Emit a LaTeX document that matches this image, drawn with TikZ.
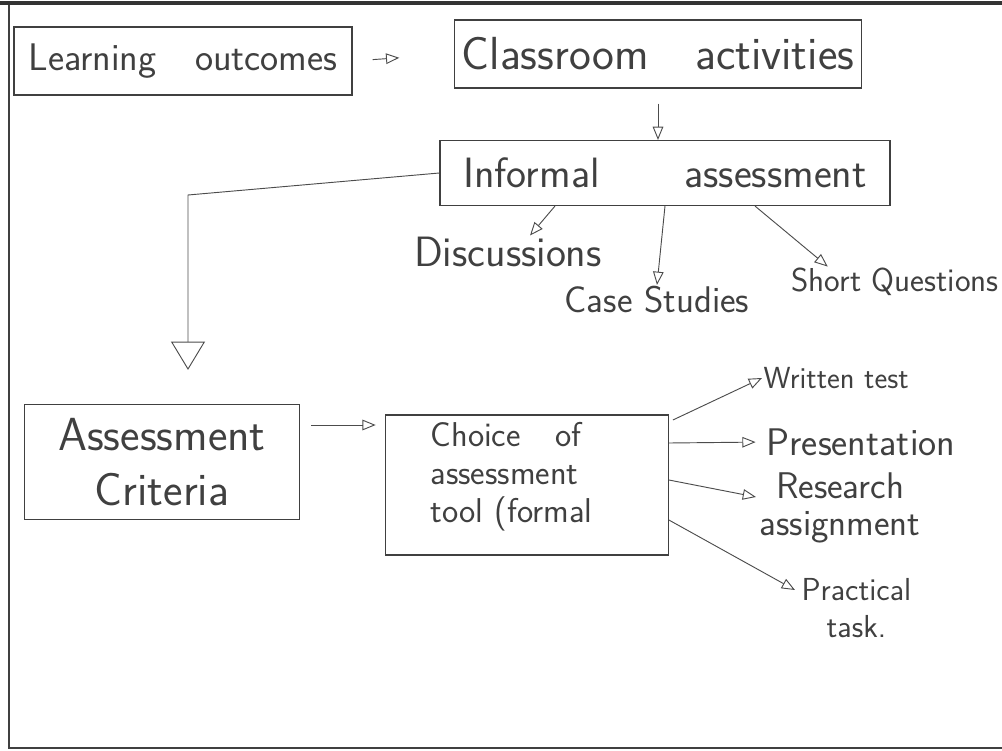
\documentclass[tikz,border=0pt]{standalone}
\usepackage{tikz}
\usetikzlibrary{arrows.meta,calc}

\tikzset{
  box/.style={draw=black!75, line width=0.9pt, text=black!75, align=center,
    font=\sffamily\fontsize{#1}{42}\selectfont},
  box/.default=30,
  lbl/.style={text=black!75, align=center, inner sep=1pt,
    font=\sffamily\fontsize{#1}{28}\selectfont},
  lbl/.default=25,
  conn/.style={draw=black!70, line width=0.7pt, -{Triangle[open,length=10pt,width=8pt]}},
}

\begin{document}
\begin{tikzpicture}[x=0.0265cm,y=-0.0265cm]
  \useasboundingbox (0,0) rectangle (1002,751);

  % edge of the scanned sheet (no right side)
  \draw[line width=2.2pt, black!75] (1002,4) -- (9,4) -- (9,748) -- (1002,748);
  \draw[line width=3pt, black!80] (0,3) -- (1002,3);

  % top row
  \node[box=29, minimum width=8.96cm, minimum height=1.8cm] (L) at (183,61) {Learning\quad outcomes};
  \node[box=35, minimum width=10.79cm, minimum height=1.8cm] (C) at (658,54) {Classroom\quad activities};

  % informal assessment and its parts
  \node[box=32, minimum width=11.93cm, minimum height=1.72cm] (I) at (665,173) {Informal\qquad assessment};
  \node[lbl=32] (D) at (508,252) {Discussions};
  \node[lbl=28] (CS) at (657,300) {Case Studies};
  \node[lbl=25] (SQ) at (895,282) {Short Questions};

  % criteria and choice of tool
  \node[box=35, minimum width=7.29cm, minimum height=3.05cm] (AC) at (162,462) {Assessment\\Criteria};
  \node[box=26, align=left, font=\sffamily\fontsize{26}{29}\selectfont, text width=5.11cm,
    inner xsep=1.19cm, inner ysep=2pt, minimum height=3.71cm] (CT) at (527,485) {Choice\quad of\\assessment\\tool (formal\\[-10pt]\mbox{}};

  % formal tools
  \node[lbl=23, anchor=west] (WT) at (762,378) {Written test};
  \node[lbl=29, anchor=west] (P) at (765,442) {Presentation};
  \node[lbl=28, anchor=west] (R) at (758,508) {Research\\assignment};
  \node[lbl=24, anchor=west] (PT) at (800,608) {Practical\\task.};

  % bend of the long arrow
  \coordinate (bend) at (188,195);
  \coordinate (ACout) at ($(AC.east)+(0,-37)$);

  % connections
  \draw[conn, shorten <=0.53cm, shorten >=1.45cm] (L.east) -- (C.west);
  \draw[conn, shorten <=0.4cm] (C.south) -- (C.south |- I.north);
  \draw[draw=black!70, line width=0.7pt, -{Triangle[open,length=0.75cm,width=0.9cm]}, shorten >=0.9cm]
    (I.west) -- (bend) -- (bend |- AC.north);
  \draw[conn, shorten <=0.3cm, shorten >=0.25cm] (ACout) -- (ACout -| CT.west);

  \draw[conn] ($(I.south)+(-110,0)$) -- ($(D.north)+(22,0)$);
  \draw[conn] (I.south) -- (CS.north);
  \draw[conn] ($(I.south)+(90,0)$) -- ($(SQ.north west)+(38,0)$);

  \draw[conn] ($(CT.east)+(4,-65)$) -- (WT.west);
  \draw[conn, shorten >=0.25cm] ($(CT.east)+(0,-42)$) -- (P.west);
  \draw[conn] ($(CT.east)+(0,-5)$) -- ($(R.west)+(-2,-11)$);
  \draw[conn] ($(CT.east)+(0,35)$) -- ($(PT.west)+(-5,-18)$);
\end{tikzpicture}
\end{document}
